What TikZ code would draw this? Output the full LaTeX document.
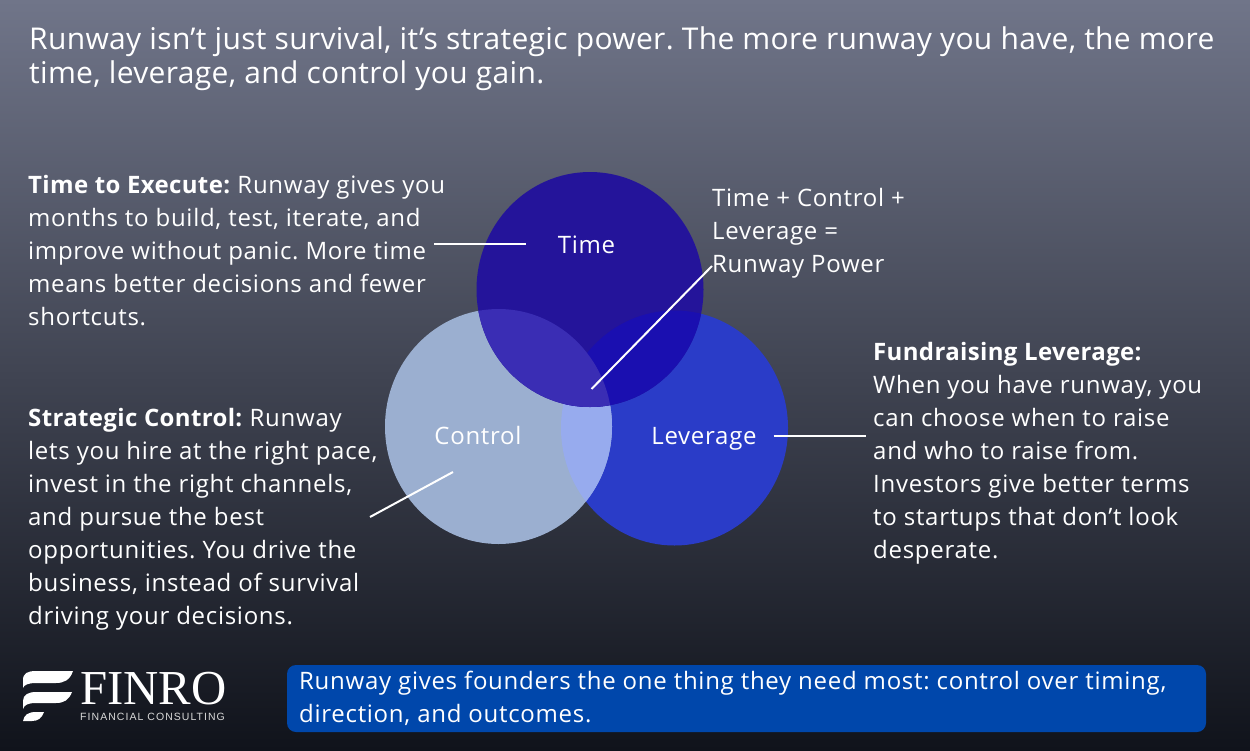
\documentclass[tikz,border=0pt]{standalone}
\usepackage{fontspec}
\setmainfont[LetterSpace=3.0,BoldFeatures={LetterSpace=1.5}]{Open Sans}
\newfontfamily\headfont[LetterSpace=1.1]{Open Sans}
\newfontfamily\logofont{Liberation Serif}
\newfontfamily\subfont[LetterSpace=10]{Liberation Sans}
\usetikzlibrary{shapes.geometric,positioning}
\definecolor{bgtop}{RGB}{112,117,137}
\definecolor{bgbot}{RGB}{16,19,27}
\definecolor{timeblue}{RGB}{36,20,154}
\definecolor{ctrlblue}{RGB}{155,175,208}
\definecolor{levblue}{RGB}{42,60,200}
\definecolor{timelev}{RGB}{26,15,176}
\definecolor{timectrl}{RGB}{58,45,180}
\definecolor{ctrllev}{RGB}{151,171,238}
\definecolor{noteblue}{RGB}{0,71,171}
\tikzset{
  disc/.style={ellipse,minimum width=227pt,minimum height=235pt,inner sep=0pt,fill=#1},
  para/.style={text=white,font=\fontsize{24}{33}\selectfont\frenchspacing,align=left,anchor=north west,inner sep=0pt},
  tag/.style={text=white,font=\fontsize{24}{33}\selectfont,inner sep=0pt,anchor=base},
  lead/.style={draw=white,line width=2pt},
}
\begin{document}
\begin{tikzpicture}[x=1pt,y=-1pt]
  \useasboundingbox (0,0) rectangle (1250,750);
  \fill[top color=bgtop,bottom color=bgbot] (0,0) rectangle (1250,750);
  \node[para,font=\headfont\fontsize{30}{34}\selectfont\frenchspacing] (headline) at (29,26.5)
    {Runway isn’t just survival, it’s strategic power. The more runway you have, the more\\time, leverage, and control you gain.};
  \node[para] (execute) at (28,175.5)
    {\textbf{Time to Execute:} Runway gives you\\months to build, test, iterate, and\\improve without panic. More time\\means better decisions and fewer\\shortcuts.};
  \node[para] (strategy) at (28,408.5)
    {\textbf{Strategic Control:} Runway\\lets you hire at the right pace,\\invest in the right channels,\\and pursue the best\\opportunities. You drive the\\business, instead of survival\\driving your decisions.};
  \node[para] (raise) at (873,342.5)
    {\textbf{Fundraising Leverage:}\\When you have runway, you\\can choose when to raise\\and who to raise from.\\Investors give better terms\\to startups that don’t look\\desperate.};
  \node[para] (power) at (712,188.5)
    {Time + Control +\\Leverage =\\Runway Power};
  \node[disc=levblue] (leverage) at (674.5,428) {};
  \node[disc=ctrlblue] (control) at (498.5,426.5) {};
  \begin{scope}
    \clip (498.5,426.5) ellipse [x radius=113.5,y radius=117.5];
    \fill[ctrllev] (674.5,428) ellipse [x radius=113.5,y radius=117.5];
  \end{scope}
  \node[disc=timeblue] (time) at (590,289.5) {};
  \begin{scope}
    \clip (590,289.5) ellipse [x radius=113.5,y radius=117.5];
    \fill[timelev] (674.5,428) ellipse [x radius=113.5,y radius=117.5];
    \fill[timectrl] (498.5,426.5) ellipse [x radius=113.5,y radius=117.5];
  \end{scope}
  \node[tag] (timetag) at (586.5,253) {Time};
  \node[tag] (controltag) at (478,444) {Control};
  \node[tag] (leveragetag) at (704,444) {Leverage};
  \coordinate (a1) at (434,244);
  \coordinate (a2) at (526,244);
  \coordinate (b1) at (591.5,389);
  \coordinate (b2) at (712,266);
  \coordinate (c1) at (453,472);
  \coordinate (c2) at (370,517);
  \coordinate (d1) at (773.5,436);
  \coordinate (d2) at (866,436);
  \draw[lead] (a1) -- (a2);
  \draw[lead] (b1) -- (b2);
  \draw[lead] (c1) -- (c2);
  \draw[lead] (d1) -- (d2);
  \node[fill=noteblue,rounded corners=9pt,minimum width=919pt,minimum height=67pt,inner sep=0pt] (notebar) at (746.5,698.5) {};
  \node[para] (note) at (299,670.5)
    {Runway gives founders the one thing they need most: control over timing,\\direction, and outcomes.};
  \fill[white] (23,680) .. controls (23,673) and (28,671) .. (36,671) -- (73,671)
    .. controls (70,680) and (64,683) .. (56,683) -- (36,683) .. controls (28,683) and (24,685) .. (23,688) -- cycle;
  \fill[white] (23,701) .. controls (23,695) and (28,692) .. (36,692) -- (72,692)
    .. controls (69,700) and (64,703) .. (56,703) -- (36,703) .. controls (28,703) and (24,705) .. (23,709) -- cycle;
  \fill[white] (23,721) .. controls (24,715) and (28,712) .. (36,712) -- (44,712)
    .. controls (42,718) and (38,721) .. (32,721) -- cycle;
  \node[text=white,font=\logofont\fontsize{48.8}{48}\selectfont,anchor=base west,inner sep=0pt] (finro) at (80,704) {FINRO};
  \node[text=white!85!black,font=\subfont\fontsize{10.5}{12}\selectfont,anchor=base west,inner sep=0pt] (consulting) at (80,720.5) {FINANCIAL CONSULTING};
\end{tikzpicture}
\end{document}
